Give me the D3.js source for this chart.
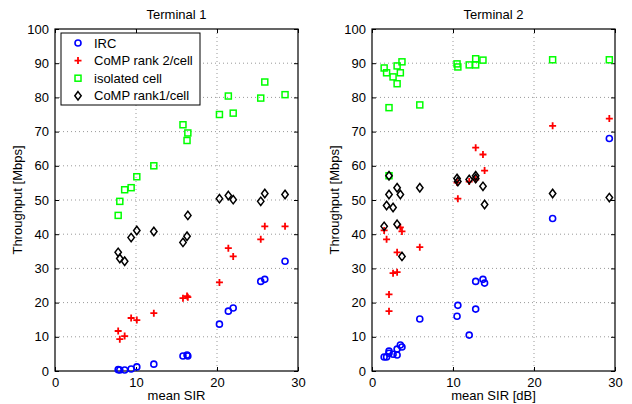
<!DOCTYPE html>
<html>
<head>
<meta charset="utf-8">
<script src="https://cdn.jsdelivr.net/npm/d3@7"></script>
<style>
body { margin: 0; background: #fff; }
svg { font-family: "Liberation Sans", Arial, sans-serif; }
</style>
</head>
<body>
<div id="chart"></div>
<script>
// Terminal 1 (all series share the same SIR points)
var sir1 = [7.8, 8.0, 8.6, 9.4, 10.1, 12.2, 15.8, 16.3, 16.4, 20.3, 21.4, 22.0, 25.4, 25.9, 28.4];
var irc1 = [0.4, 0.3, 0.3, 0.6, 1.2, 2.0, 4.4, 4.7, 4.4, 13.7, 17.5, 18.4, 26.2, 26.8, 32.1];
var rank2_1 = [11.7, 9.3, 10.2, 15.5, 14.9, 16.9, 21.3, 21.9, 21.6, 25.9, 35.9, 33.5, 38.5, 42.3, 42.3];
var isolated1 = [45.5, 49.6, 53.0, 53.6, 56.8, 60.0, 72.0, 67.4, 69.6, 75.0, 80.4, 75.4, 79.8, 84.5, 80.8];
var rank1_1 = [34.7, 32.9, 32.1, 39.0, 41.1, 40.8, 37.6, 39.4, 45.5, 50.4, 51.3, 50.1, 49.6, 51.9, 51.6];

// Terminal 2
var sir2 = [1.5, 1.8, 2.1, 2.1, 2.6, 3.1, 3.1, 3.5, 3.7, 5.9, 10.5, 10.6, 12.0, 12.8, 12.8, 13.7, 13.9, 22.3, 29.3];
var irc2 = [4.1, 4.1, 5.8, 5.2, 4.9, 6.4, 4.7, 7.6, 7.0, 15.2, 16.0, 19.2, 10.5, 26.2, 18.1, 26.8, 25.7, 44.6, 68.0];
var rank2_2 = [41.1, 38.5, 22.4, 17.5, 28.6, 28.9, 34.7, 42.0, 40.8, 36.2, 55.1, 50.4, 55.4, 65.3, 56.0, 63.3, 58.6, 71.7, 73.8];
var isolated2 = [88.6, 87.2, 77.0, 57.1, 86.0, 89.2, 84.0, 87.2, 90.4, 77.8, 89.8, 88.9, 89.5, 91.3, 89.5, 90.9, null, 91.0, 91.0];
var rank1_2 = [42.3, 48.4, 57.1, 51.6, 47.8, 53.6, 42.9, 51.6, 33.5, 53.6, 56.3, 55.4, 56.0, 57.1, 56.3, 54.0, 48.7, 51.9, 50.7];

var seriesNames = ['IRC', 'CoMP rank 2/cell', 'isolated cell', 'CoMP rank1/cell'];
var xTicks = [0, 10, 20, 30];
var yTicks = [0, 10, 20, 30, 40, 50, 60, 70, 80, 90, 100];

var width = 632, height = 404;
var svg = d3.select('#chart').append('svg')
	.attr('width', width)
	.attr('height', height);

var styles = [
	{ shape: 'circle', color: '#0000ff' },
	{ shape: 'plus', color: '#ff0000' },
	{ shape: 'square', color: '#00ff00' },
	{ shape: 'diamond', color: '#000000' }
];

function marker(g, shape, color, x, y)
{
	if (shape == 'circle')
		g.append('circle').attr('cx', x).attr('cy', y).attr('r', 3)
			.attr('fill', 'none').attr('stroke', color).attr('stroke-width', 1.6);
	else if (shape == 'plus')
		g.append('path').attr('d', 'M' + (x - 3.5) + ',' + y + 'h7M' + x + ',' + (y - 3.5) + 'v7')
			.attr('stroke', color).attr('stroke-width', 1.8).attr('fill', 'none');
	else if (shape == 'square')
		g.append('rect').attr('x', x - 3).attr('y', y - 3).attr('width', 6).attr('height', 6)
			.attr('fill', 'none').attr('stroke', color).attr('stroke-width', 1.5);
	else
		g.append('path').attr('d', 'M' + x + ',' + (y - 4.2) + 'L' + (x + 3.2) + ',' + y + 'L' + x + ',' + (y + 4.2) + 'L' + (x - 3.2) + ',' + y + 'Z')
			.attr('fill', 'none').attr('stroke', color).attr('stroke-width', 1.5);
}

function panel(left, right, title, xlabel, sir, series, withLegend)
{
	var top = 29, bottom = 371;
	var x = d3.scaleLinear().domain([0, 30]).range([left, right]);
	var y = d3.scaleLinear().domain([0, 100]).range([bottom, top]);
	var g = svg.append('g');

	// dotted grid
	g.selectAll('.vgrid').data(xTicks.slice(1, -1)).enter().append('line')
		.attr('x1', d => x(d)).attr('x2', d => x(d)).attr('y1', top).attr('y2', bottom)
		.attr('stroke', '#999').attr('stroke-width', 1).attr('stroke-dasharray', '1,3');
	g.selectAll('.hgrid').data(yTicks.slice(1, -1)).enter().append('line')
		.attr('x1', left).attr('x2', right).attr('y1', d => y(d)).attr('y2', d => y(d))
		.attr('stroke', '#999').attr('stroke-width', 1).attr('stroke-dasharray', '1,3');

	// axes with inward ticks on all sides
	g.append('g').attr('transform', 'translate(0,' + bottom + ')')
		.call(d3.axisBottom(x).tickValues(xTicks).tickSizeInner(-4).tickSizeOuter(0).tickPadding(7))
		.call(a => a.select('.domain').remove());
	g.append('g').attr('transform', 'translate(0,' + top + ')')
		.call(d3.axisTop(x).tickValues(xTicks).tickSizeInner(-4).tickSizeOuter(0).tickFormat(''))
		.call(a => a.select('.domain').remove());
	g.append('g').attr('transform', 'translate(' + left + ',0)')
		.call(d3.axisLeft(y).tickValues(yTicks).tickSizeInner(-4).tickSizeOuter(0).tickPadding(6))
		.call(a => a.select('.domain').remove());
	g.append('g').attr('transform', 'translate(' + right + ',0)')
		.call(d3.axisRight(y).tickValues(yTicks).tickSizeInner(-4).tickSizeOuter(0).tickFormat(''))
		.call(a => a.select('.domain').remove());
	g.selectAll('.tick text').attr('font-size', 13).attr('fill', '#000');
	g.selectAll('.tick line').attr('stroke', '#000');

	g.append('rect').attr('x', left).attr('y', top).attr('width', right - left).attr('height', bottom - top)
		.attr('fill', 'none').attr('stroke', '#000').attr('stroke-width', 1.2);

	// data
	var pts = g.append('g');
	series.forEach(function(vals, k)
	{
		vals.forEach(function(v, i)
		{
			if (v === null) return;
			marker(pts, styles[k].shape, styles[k].color, x(sir[i]), y(v));
		});
	});

	g.append('text').attr('x', (left + right) / 2).attr('y', 19).attr('text-anchor', 'middle')
		.attr('font-size', 13).text(title);
	g.append('text').attr('x', (left + right) / 2).attr('y', 400).attr('text-anchor', 'middle')
		.attr('font-size', 13).text(xlabel);
	g.append('text').attr('transform', 'translate(' + (left - 33) + ',' + ((top + bottom) / 2) + ') rotate(-90)')
		.attr('text-anchor', 'middle').attr('font-size', 13).text('Throughput [Mbps]');

	if (withLegend)
	{
		var lg = g.append('g');
		lg.append('rect').attr('x', 61).attr('y', 33).attr('width', 139).attr('height', 72)
			.attr('fill', '#fff').attr('stroke', '#000').attr('stroke-width', 1);
		seriesNames.forEach(function(name, k)
		{
			var ly = 43 + k * 17.6;
			marker(lg, styles[k].shape, styles[k].color, 78, ly);
			lg.append('text').attr('x', 94).attr('y', ly + 4.5).attr('font-size', 13).text(name);
		});
	}
}

panel(55, 298, 'Terminal 1', 'mean SIR', sir1, [irc1, rank2_1, isolated1, rank1_1], true);
panel(372, 615, 'Terminal 2', 'mean SIR [dB]', sir2, [irc2, rank2_2, isolated2, rank1_2], false);
</script>
</body>
</html>
